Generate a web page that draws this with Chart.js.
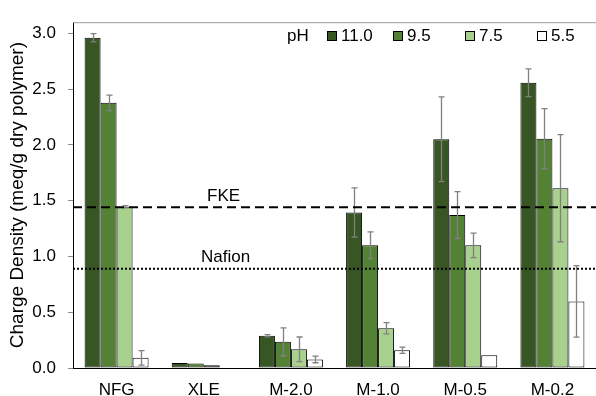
<!DOCTYPE html>
<html>
<head>
<meta charset="utf-8">
<script src="https://cdn.jsdelivr.net/npm/chart.js@4/dist/chart.umd.min.js"></script>
<style>
  html, body { margin: 0; padding: 0; background: #ffffff; }
  #wrap { width: 596px; height: 396px; }
</style>
</head>
<body>
<div id="wrap"><canvas id="c" width="596" height="396"></canvas></div>
<script>
// Membrane samples along the x axis
const categories = ['NFG', 'XLE', 'M-2.0', 'M-1.0', 'M-0.5', 'M-0.2'];

// Series labels (solution pH)
const phLabels = ['11.0', '9.5', '7.5', '5.5'];

// Charge density (meq/g dry polymer) per pH
const ph110 = [2.96, 0.044, 0.289, 1.394, 2.05, 2.557];
const ph95  = [2.377, 0.041, 0.235, 1.10, 1.371, 2.056];
const ph75  = [1.445, 0.024, 0.168, 0.356, 1.10, 1.612];
const ph55  = [0.091, 0.005, 0.077, 0.159, 0.115, 0.597];

// Standard deviations for the error bars
const err110 = [0.037, 0, 0.01, 0.22, 0.38, 0.125];
const err95  = [0.07, 0, 0.125, 0.12, 0.21, 0.27];
const err75  = [0.01, 0, 0.11, 0.05, 0.11, 0.48];
const err55  = [0.065, 0, 0.03, 0.028, 0, 0.32];

// Reference membranes
const fkeLevel = 1.44;
const nafionLevel = 0.89;

// Y axis ticks
const yTicks = [0, 0.5, 1.0, 1.5, 2.0, 2.5, 3.0];

const FONT = "'Liberation Sans', Arial, sans-serif";
const colors = ['#375623', '#548235', '#a9d18e', '#ffffff'];
const seriesValues = [ph110, ph95, ph75, ph55];
const seriesErrors = [err110, err95, err75, err55];

const datasets = seriesValues.map((vals, i) => ({
  label: phLabels[i],
  data: vals,
  errors: seriesErrors[i],
  backgroundColor: colors[i],
  borderColor: '#000000',
  borderWidth: 1,
  borderSkipped: false,
  barPercentage: 1.0,
  categoryPercentage: 0.734
}));

// Error bars drawn on top of each bar
const errorBarPlugin = {
  id: 'errorBars',
  afterDatasetsDraw(chart) {
    const ctx = chart.ctx;
    const y = chart.scales.y;
    ctx.save();
    ctx.strokeStyle = '#808080';
    ctx.lineWidth = 1.3;
    chart.data.datasets.forEach((ds, di) => {
      const meta = chart.getDatasetMeta(di);
      meta.data.forEach((bar, i) => {
        const e = ds.errors[i];
        if (!e) return;
        const v = ds.data[i];
        const yTop = y.getPixelForValue(v + e);
        const yBot = y.getPixelForValue(v - e);
        const x = Math.round(bar.x) + 0.5;
        ctx.beginPath();
        ctx.moveTo(x, yTop); ctx.lineTo(x, yBot);
        ctx.moveTo(x - 3, yTop); ctx.lineTo(x + 3, yTop);
        ctx.moveTo(x - 3, yBot); ctx.lineTo(x + 3, yBot);
        ctx.stroke();
      });
    });
    ctx.restore();
  }
};

// FKE / Nafion reference lines, plot frame and legend
const decorPlugin = {
  id: 'decor',
  afterDatasetsDraw(chart) {
    const ctx = chart.ctx;
    const a = chart.chartArea;
    const y = chart.scales.y;
    ctx.save();

    // top frame line
    ctx.strokeStyle = '#9a9a9a';
    ctx.lineWidth = 1;
    ctx.beginPath();
    ctx.moveTo(a.left, a.top + 0.5);
    ctx.lineTo(a.right, a.top + 0.5);
    ctx.stroke();

    // FKE dashed line
    const yF = y.getPixelForValue(fkeLevel);
    ctx.strokeStyle = '#000000';
    ctx.lineWidth = 2;
    ctx.setLineDash([9, 5]);
    ctx.beginPath();
    ctx.moveTo(a.left, yF); ctx.lineTo(a.right, yF);
    ctx.stroke();

    // Nafion dotted line
    const yN = y.getPixelForValue(nafionLevel);
    ctx.setLineDash([2, 2]);
    ctx.beginPath();
    ctx.moveTo(a.left, yN); ctx.lineTo(a.right, yN);
    ctx.stroke();
    ctx.setLineDash([]);

    // line labels
    ctx.fillStyle = '#000000';
    ctx.font = '17px ' + FONT;
    ctx.textAlign = 'center';
    ctx.textBaseline = 'middle';
    const lx = a.left + (a.right - a.left) * 0.288;
    ctx.fillText('FKE', lx, yF - 11);
    ctx.fillText('Nafion', lx + 2, yN - 11);

    // legend
    const ly = 36;
    ctx.textAlign = 'left';
    ctx.fillText('pH', 287, ly);
    const cols = [327, 393, 465, 537];
    chart.data.datasets.forEach((ds, i) => {
      const bx = cols[i];
      ctx.fillStyle = ds.backgroundColor;
      ctx.fillRect(bx + 0.5, ly - 4.5, 9, 9);
      ctx.strokeStyle = '#000000';
      ctx.lineWidth = 1;
      ctx.strokeRect(bx + 0.5, ly - 4.5, 9, 9);
      ctx.fillStyle = '#000000';
      ctx.fillText(ds.label, bx + 14, ly);
    });
    ctx.restore();
  }
};

new Chart(document.getElementById('c'), {
  type: 'bar',
  data: { labels: categories, datasets },
  plugins: [errorBarPlugin, decorPlugin],
  options: {
    responsive: false,
    animation: false,
    layout: { padding: { top: 16, right: 0, left: 0, bottom: 0 } },
    plugins: {
      legend: { display: false },
      tooltip: { enabled: false }
    },
    scales: {
      x: {
        grid: { display: false, drawTicks: false },
        border: { display: true, color: '#000000', width: 1 },
        ticks: { color: '#000000', font: { family: FONT, size: 17 }, padding: 12 },
        afterFit(scale) { scale.height = 28; }
      },
      y: {
        min: 0,
        max: 3.1,
        afterBuildTicks(scale) { scale.ticks = yTicks.map(v => ({ value: v })); },
        grid: { drawOnChartArea: false, drawTicks: true, tickLength: 5, color: '#8c8c8c' },
        border: { display: true, color: '#000000', width: 1 },
        ticks: {
          color: '#000000',
          font: { family: FONT, size: 17 },
          padding: 12,
          callback: v => Number(v).toFixed(1)
        },
        title: {
          display: true,
          text: 'Charge Density (meq/g dry polymer)',
          color: '#000000',
          font: { family: FONT, size: 19 },
          padding: { top: 6, bottom: 0 }
        },
        afterFit(scale) { scale.width = 73; }
      }
    }
  }
});
</script>
</body>
</html>
